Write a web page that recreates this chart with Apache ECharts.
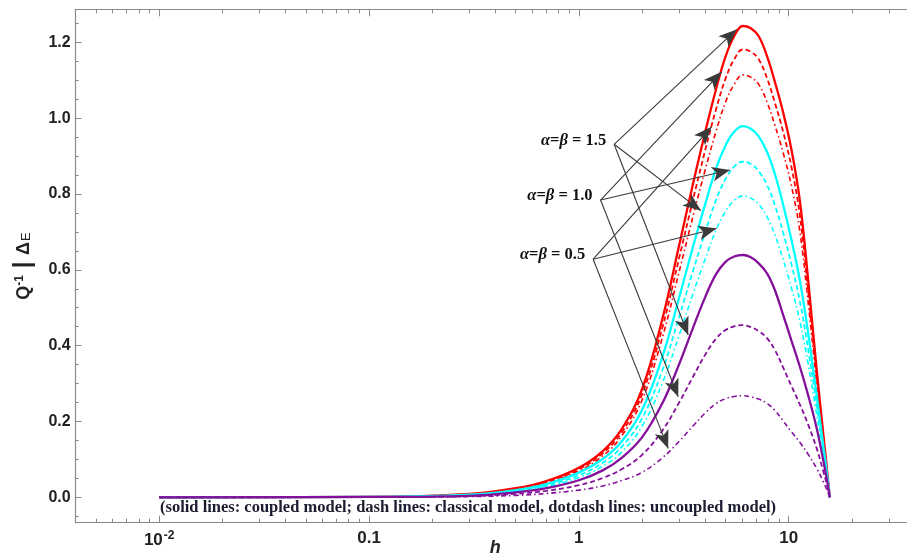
<!DOCTYPE html>
<html><head><meta charset="utf-8">
<script src="https://cdn.jsdelivr.net/npm/echarts@6/dist/echarts.min.js"></script>
<style>html,body{margin:0;padding:0;overflow:hidden;background:#fff}#c{width:930px;height:557px}</style>
</head><body><div id="c"></div>
<script>
// ---------- data ----------
const hValues = [0.01, 0.1, 0.3, 0.5, 0.7, 1.0, 1.3, 1.6, 2.0, 2.5, 3.0, 3.5, 4.0, 4.5, 5.0, 5.5, 6.05, 6.6, 7.2, 7.9, 8.6, 9.4, 10.3, 11.3, 12.4, 13.6, 14.6, 15.2, 15.7];

const redSolid   = [0, 0.001, 0.009, 0.024, 0.043, 0.078, 0.122, 0.180, 0.285, 0.470, 0.662, 0.827, 0.963, 1.075, 1.162, 1.216, 1.243, 1.237, 1.216, 1.162, 1.095, 1.016, 0.918, 0.783, 0.570, 0.336, 0.170, 0.078, 0];
const redDash    = [0, 0.001, 0.008, 0.022, 0.040, 0.074, 0.116, 0.171, 0.271, 0.447, 0.629, 0.785, 0.915, 1.022, 1.104, 1.155, 1.181, 1.175, 1.155, 1.104, 1.040, 0.965, 0.872, 0.744, 0.541, 0.319, 0.162, 0.074, 0];
const redDotDash = [0, 0.001, 0.008, 0.021, 0.038, 0.070, 0.109, 0.162, 0.256, 0.421, 0.593, 0.741, 0.863, 0.964, 1.042, 1.089, 1.114, 1.108, 1.089, 1.041, 0.981, 0.910, 0.822, 0.702, 0.511, 0.301, 0.153, 0.070, 0];

const cyanSolid   = [0, 0.001, 0.007, 0.019, 0.035, 0.065, 0.101, 0.147, 0.230, 0.370, 0.525, 0.661, 0.773, 0.866, 0.928, 0.964, 0.979, 0.972, 0.952, 0.910, 0.852, 0.773, 0.680, 0.573, 0.431, 0.269, 0.139, 0.066, 0];
const cyanDash    = [0, 0.001, 0.006, 0.017, 0.031, 0.058, 0.091, 0.133, 0.208, 0.335, 0.474, 0.597, 0.699, 0.783, 0.839, 0.872, 0.885, 0.879, 0.860, 0.823, 0.770, 0.699, 0.615, 0.518, 0.389, 0.243, 0.126, 0.059, 0];
const cyanDotDash = [0, 0.001, 0.006, 0.015, 0.028, 0.052, 0.082, 0.119, 0.187, 0.301, 0.426, 0.537, 0.628, 0.704, 0.754, 0.783, 0.795, 0.789, 0.773, 0.739, 0.692, 0.628, 0.553, 0.465, 0.350, 0.219, 0.113, 0.053, 0];

const purpleSolid   = [0, 0.001, 0.004, 0.013, 0.024, 0.045, 0.071, 0.104, 0.158, 0.248, 0.350, 0.447, 0.528, 0.588, 0.621, 0.635, 0.639, 0.633, 0.617, 0.590, 0.546, 0.482, 0.414, 0.345, 0.268, 0.182, 0.099, 0.048, 0];
const purpleDash    = [0, 0.0005, 0.003, 0.009, 0.017, 0.032, 0.051, 0.074, 0.112, 0.176, 0.249, 0.318, 0.376, 0.418, 0.441, 0.451, 0.454, 0.449, 0.438, 0.419, 0.388, 0.343, 0.294, 0.245, 0.191, 0.129, 0.070, 0.034, 0];
const purpleDotDash = [0, 0.0003, 0.002, 0.005, 0.010, 0.019, 0.030, 0.044, 0.066, 0.104, 0.147, 0.188, 0.222, 0.247, 0.260, 0.266, 0.268, 0.265, 0.259, 0.247, 0.229, 0.202, 0.173, 0.145, 0.113, 0.076, 0.042, 0.020, 0];

const xMajorTicks = [0.01, 0.1, 1, 10];
const xTickLabels = ['{n|10}{s|-2}', '0.1', '1', '10'];
const xMinorTicks = [0.005, 0.006, 0.007, 0.008, 0.009, 0.02, 0.03, 0.04, 0.05, 0.06, 0.07, 0.08, 0.09,
  0.2, 0.3, 0.4, 0.5, 0.6, 0.7, 0.8, 0.9, 2, 3, 4, 5, 6, 7, 8, 9, 20, 30, 40];
const yMajorTicks = [0, 0.2, 0.4, 0.6, 0.8, 1.0, 1.2];
const yTickLabels = ['0.0', '0.2', '0.4', '0.6', '0.8', '1.0', '1.2'];
const yMinorTicks = [-0.05, 0.05, 0.1, 0.15, 0.25, 0.3, 0.35, 0.45, 0.5, 0.55, 0.65, 0.7, 0.75,
  0.85, 0.9, 0.95, 1.05, 1.1, 1.15, 1.25];

const paramValues = ['1.5', '1.0', '0.5'];
const paramAnchors = [[1.473, 0.931], [1.269, 0.784], [1.170, 0.628]];
// arrow tips per parameter: red, cyan, purple curves
const arrowTips = [
  [[5.65, 1.234], [3.82, 0.756], [3.32, 0.428]],
  [[4.79, 1.122], [5.25, 0.863], [2.976, 0.265]],
  [[4.29, 0.977], [4.53, 0.709], [2.666, 0.129]]
];
const noteText = '(solid lines: coupled model; dash lines: classical model, dotdash lines: uncoupled model)';

// ---------- chart ----------
const X_MIN = 0.004, X_MAX = 40, Y_MIN = -0.067, Y_MAX = 1.287;
const axisColor = '#8a8a8a';
const chart = echarts.init(document.getElementById('c'), null, {renderer: 'canvas'});

function pairs(vals) { return hValues.map((h, i) => [h, vals[i]]); }
const RED = '#ff0000', CYAN = '#00ffff', PURPLE = '#840f9a';
const DASH = [5, 3], DOTDASH = [1.5, 3, 5, 3];
function mk(name, vals, color, type, width) {
  return {
    name, type: 'line', data: pairs(vals), xAxisIndex: 0, yAxisIndex: 0,
    showSymbol: false, symbol: 'none', smooth: 0.4,
    lineStyle: {color, width, type}, silent: true, z: 3
  };
}
const sans = 'Liberation Sans, Arial';
function xAx(pos, ticks, len, showLine, labels) {
  return {
    type: 'log', logBase: 10, min: X_MIN, max: X_MAX, position: pos,
    axisLine: {show: showLine, onZero: false, lineStyle: {color: axisColor, width: 1.2}},
    axisTick: {show: true, inside: true, length: len, customValues: ticks, lineStyle: {color: axisColor, width: 1}},
    minorTick: {show: false}, splitLine: {show: false},
    axisLabel: labels ? {
      show: true, customValues: xMajorTicks, margin: 7,
      formatter: (v) => xTickLabels[xMajorTicks.indexOf(v)] ?? '',
      color: '#222', fontFamily: sans, fontWeight: 'bold', fontSize: 17,
      rich: {
        n: {fontFamily: sans, fontWeight: 'bold', fontSize: 17, color: '#222'},
        s: {fontFamily: sans, fontWeight: 'bold', fontSize: 12, color: '#222', verticalAlign: 'bottom', padding: [0, 0, 9, 1]}
      }
    } : {show: false},
    name: labels ? 'h' : '', nameLocation: 'middle', nameGap: 16, nameMoveOverlap: false,
    nameTextStyle: {fontFamily: sans, fontStyle: 'italic', fontWeight: 'bold', fontSize: 18, color: '#222'}
  };
}
function yAx(ticks, len, showLine, labels) {
  return {
    type: 'value', min: Y_MIN, max: Y_MAX, position: 'left',
    axisLine: {show: showLine, onZero: false, lineStyle: {color: axisColor, width: 1.2}},
    axisTick: {show: true, inside: true, length: len, customValues: ticks, lineStyle: {color: axisColor, width: 1}},
    minorTick: {show: false}, splitLine: {show: false},
    axisLabel: labels ? {
      show: true, customValues: yMajorTicks, margin: 5,
      formatter: (v) => yTickLabels[yMajorTicks.findIndex(t => Math.abs(t - v) < 1e-9)] ?? '',
      color: '#222', fontFamily: sans, fontWeight: 'bold', fontSize: 16
    } : {show: false},
    name: labels ? '{q|Q}{s|-1}{b| | }{d|Δ}{e|E}' : '', nameLocation: 'middle', nameRotate: 90, nameGap: 40,
    nameMoveOverlap: false,
    nameTextStyle: labels ? {
      rich: {
        q: {fontFamily: sans, fontWeight: 'bold', fontSize: 18, color: '#222'},
        s: {fontFamily: sans, fontWeight: 'bold', fontSize: 12, color: '#222', verticalAlign: 'bottom', padding: [0, 0, 10, 0]},
        b: {fontFamily: sans, fontWeight: 'bold', fontSize: 24, color: '#222'},
        d: {fontFamily: sans, fontWeight: 'bold', fontSize: 18, color: '#222'},
        e: {fontFamily: sans, fontSize: 13, color: '#222', verticalAlign: 'top', padding: [8, 0, 0, 1]}
      }
    } : {}
  };
}

const arrowData = [];
paramAnchors.forEach((a, i) => {
  arrowTips[i].forEach(t => {
    arrowData.push([{coord: a}, {coord: t, symbol: 'arrow', symbolSize: [11, 18]}]);
  });
});

const option = {
  animation: false,
  backgroundColor: '#fff',
  grid: {left: 75.7, top: 9.3, width: 839.3, height: 513.4, containLabel: false, outerBoundsMode: 'none'},
  xAxis: [
    xAx('bottom', xMajorTicks, 7, true, true),
    xAx('bottom', xMinorTicks, 4, false, false),
    xAx('top', xMajorTicks, 7, true, false),
    xAx('top', xMinorTicks, 4, false, false)
  ],
  yAxis: [
    yAx(yMajorTicks, 6, true, true),
    yAx(yMinorTicks, 3, false, false)
  ],
  series: [
    mk('red dotdash', redDotDash, RED, DOTDASH, 1.6),
    mk('red dash', redDash, RED, DASH, 1.8),
    mk('red solid', redSolid, RED, 'solid', 2.3),
    mk('cyan dotdash', cyanDotDash, CYAN, DOTDASH, 1.6),
    mk('cyan dash', cyanDash, CYAN, DASH, 1.8),
    mk('cyan solid', cyanSolid, CYAN, 'solid', 2.3),
    mk('purple dotdash', purpleDotDash, PURPLE, DOTDASH, 1.6),
    mk('purple dash', purpleDash, PURPLE, DASH, 1.8),
    mk('purple solid', purpleSolid, PURPLE, 'solid', 2.3),
    {
      name: 'arrows', type: 'line', data: [], xAxisIndex: 0, yAxisIndex: 0, silent: true, z: 5,
      markLine: {
        silent: true, animation: false, symbol: ['none', 'arrow'], symbolSize: [0, 14],
        label: {show: false}, emphasis: {disabled: true},
        lineStyle: {color: '#3a3a3a', width: 1.1, type: 'solid'},
        itemStyle: {color: '#111'},
        data: arrowData
      }
    }
  ]
};
chart.setOption(option);

const serif = '"Liberation Serif", "Times New Roman", serif';
const graphics = paramAnchors.map((a, i) => {
  const p = chart.convertToPixel({xAxisIndex: 0, yAxisIndex: 0}, a);
  return {
    type: 'text', x: p[0] - 8, y: p[1] - 4, z: 10,
    style: {
      text: '{g|α}{t|=}{g|β}{t| = ' + paramValues[i] + '}',
      align: 'right', verticalAlign: 'middle',
      rich: {
        g: {font: 'italic bold 16.5px ' + serif, fill: '#111'},
        t: {font: 'bold 16.5px ' + serif, fill: '#111'}
      }
    }
  };
});
graphics.push({
  type: 'text', left: 160, top: 499, z: 10,
  style: {text: noteText, font: 'bold 16.5px ' + serif, fill: '#1c1c30'}
});
chart.setOption({graphic: graphics});
</script>
</body></html>
